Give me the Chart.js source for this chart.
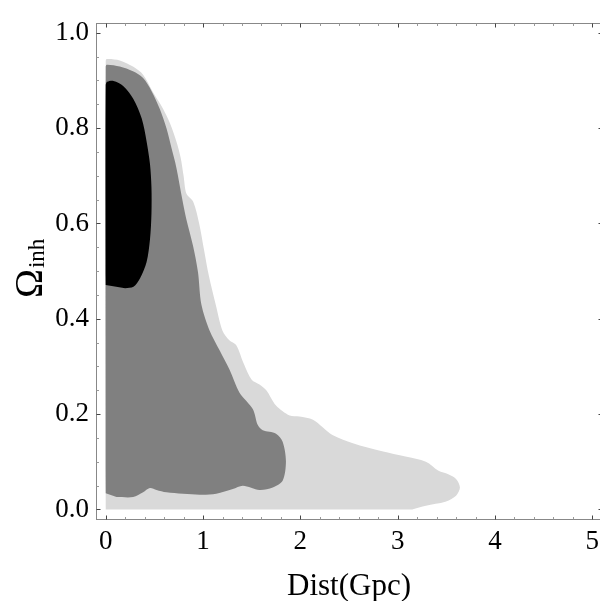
<!DOCTYPE html>
<html>
<head>
<meta charset="utf-8">
<script src="https://cdn.jsdelivr.net/npm/chart.js@4"></script>
<style>
  html, body { margin: 0; padding: 0; background: #fff; overflow: hidden; }
  canvas { display: block; }
</style>
</head>
<body>
<canvas id="MiGrafica" width="620" height="601"></canvas>
<script>
// tick labels
let xTicks = [0, 1, 2, 3, 4, 5];
let yTicks = [0, 0.2, 0.4, 0.6, 0.8, 1.0];

// outer contour (light gray)
let lightX = [0, 0, 0.01, 0.145, 0.28, 0.384, 0.486, 0.59, 0.66, 0.726, 0.77, 0.8, 0.83, 0.9, 0.96, 1.01, 1.06, 1.13, 1.2, 1.27, 1.34, 1.42, 1.5, 1.58, 1.65, 1.75, 1.89, 1.99, 2.13, 2.33, 2.54, 2.84, 3.08, 3.29, 3.42, 3.52, 3.6, 3.64, 3.6, 3.49, 3.29, 3.15];
let lightY = [0, 0.94, 0.945, 0.942, 0.929, 0.912, 0.875, 0.84, 0.81, 0.772, 0.738, 0.7, 0.662, 0.645, 0.6, 0.545, 0.49, 0.43, 0.375, 0.355, 0.345, 0.305, 0.272, 0.262, 0.25, 0.218, 0.197, 0.195, 0.188, 0.156, 0.139, 0.122, 0.111, 0.1, 0.081, 0.074, 0.064, 0.046, 0.029, 0.016, 0.008, 0];

// middle contour (dark gray)
let darkX = [0, 0, 0.01, 0.145, 0.28, 0.384, 0.47, 0.556, 0.625, 0.676, 0.726, 0.788, 0.829, 0.897, 0.948, 0.983, 1.068, 1.17, 1.273, 1.375, 1.511, 1.563, 1.614, 1.75, 1.818, 1.852, 1.818, 1.716, 1.58, 1.41, 1.306, 1.136, 0.965, 0.624, 0.522, 0.453, 0.384, 0.282, 0.111];
let darkY = [0.034, 0.928, 0.933, 0.929, 0.919, 0.905, 0.878, 0.84, 0.799, 0.758, 0.717, 0.649, 0.608, 0.553, 0.498, 0.43, 0.375, 0.334, 0.293, 0.245, 0.211, 0.177, 0.166, 0.159, 0.142, 0.101, 0.06, 0.046, 0.041, 0.05, 0.043, 0.033, 0.031, 0.036, 0.041, 0.045, 0.036, 0.026, 0.026];

// inner contour (black)
let coreX = [0, 0, 0.015, 0.08, 0.182, 0.284, 0.37, 0.42, 0.455, 0.47, 0.47, 0.455, 0.42, 0.353, 0.285, 0.2];
let coreY = [0.471, 0.89, 0.897, 0.899, 0.888, 0.861, 0.82, 0.772, 0.724, 0.676, 0.621, 0.567, 0.519, 0.485, 0.467, 0.464];

function puntos(xs, ys) {
    return xs.map((x, i) => ({x: x, y: ys[i]}));
}

function region(data, color) {
    return {
        data: data,
        showLine: true,
        fill: "shape",
        backgroundColor: color,
        borderWidth: 0,
        borderColor: color,
        pointRadius: 0,
        tension: 0.3
    };
}

// frame with inward ticks (major + minor) on every side, plus the y title
let marco = {
    id: "marco",
    afterDraw(chart) {
        let ctx = chart.ctx;
        let a = chart.chartArea;
        let sx = chart.scales.x, sy = chart.scales.y;
        ctx.save();
        ctx.lineWidth = 1;
        ctx.strokeStyle = "#888";
        ctx.strokeRect(Math.round(a.left) + 0.5, Math.round(a.top) + 0.5, Math.round(a.right - a.left), Math.round(a.bottom - a.top));

        function tick(x1, y1, x2, y2, color) {
            ctx.strokeStyle = color;
            ctx.beginPath();
            ctx.moveTo(x1, y1);
            ctx.lineTo(x2, y2);
            ctx.stroke();
        }
        let top = Math.round(a.top) + 0.5, bot = Math.round(a.bottom) + 0.5;
        let lef = Math.round(a.left) + 0.5, rig = Math.round(a.right) + 0.5;
        for (let i = 0; i <= 25; i++) {
            let v = i * 0.2;
            let major = i % 5 === 0;
            let len = major ? 4 : 2.5;
            let col = major ? "#444" : "#999";
            let px = Math.round(sx.getPixelForValue(v)) + 0.5;
            tick(px, bot, px, bot - len, col);
            tick(px, top, px, top + len, col);
        }
        for (let i = 0; i <= 20; i++) {
            let v = i * 0.05;
            let major = i % 4 === 0;
            let len = major ? 4 : 2.5;
            let col = major ? "#444" : "#999";
            let py = Math.round(sy.getPixelForValue(v)) + 0.5;
            tick(lef, py, lef + len, py, col);
            tick(rig, py, rig - len, py, col);
        }

        // y axis title: Omega with subscript "inh"
        let cy = (a.top + a.bottom) / 2;
        ctx.translate(42, cy + 27);
        ctx.rotate(-Math.PI / 2);
        ctx.fillStyle = "#000";
        ctx.textBaseline = "alphabetic";
        ctx.textAlign = "left";
        ctx.font = "39px 'Liberation Serif'";
        ctx.fillText("Ω", 0, 0);
        let w = ctx.measureText("Ω").width;
        ctx.font = "23px 'Liberation Serif'";
        ctx.fillText("inh", w + 1, 2);
        ctx.restore();
    }
};

let miCanvas = document.getElementById("MiGrafica").getContext("2d");

var chart = new Chart(miCanvas, {
    type: "scatter",
    data: {
        datasets: [
            region(puntos(coreX, coreY), "rgb(0, 0, 0)"),
            region(puntos(darkX, darkY), "rgb(128, 128, 128)"),
            region(puntos(lightX, lightY), "rgb(217, 217, 217)")
        ]
    },
    options: {
        responsive: false,
        devicePixelRatio: 1,
        animation: false,
        events: [],
        layout: { padding: { left: 0, top: 13, right: 18, bottom: 0 } },
        plugins: {
            legend: { display: false },
            tooltip: { enabled: false }
        },
        scales: {
            x: {
                type: "linear",
                min: -0.1,
                max: 5.1,
                grid: { display: false, drawTicks: false },
                border: { display: false },
                afterBuildTicks: s => { s.ticks = xTicks.map(v => ({value: v})); },
                afterFit: s => { s.height = 82; },
                ticks: {
                    padding: 7,
                    maxRotation: 0,
                    color: "#000",
                    font: { family: "'Liberation Serif'", size: 27 },
                    callback: v => String(v)
                },
                title: {
                    display: true,
                    text: "Dist(Gpc)",
                    color: "#000",
                    padding: { top: 0, bottom: 0 },
                    font: { family: "'Liberation Serif'", size: 31, lineHeight: 0.9 }
                }
            },
            y: {
                type: "linear",
                min: -0.02,
                max: 1.02,
                grid: { display: false, drawTicks: false },
                border: { display: false },
                afterBuildTicks: s => { s.ticks = yTicks.map(v => ({value: v})); },
                afterFit: s => { s.width = 96; },
                ticks: {
                    padding: 7,
                    color: "#000",
                    font: { family: "'Liberation Serif'", size: 27 },
                    callback: v => Number(v).toFixed(1)
                }
            }
        }
    },
    plugins: [marco]
});
</script>
</body>
</html>
